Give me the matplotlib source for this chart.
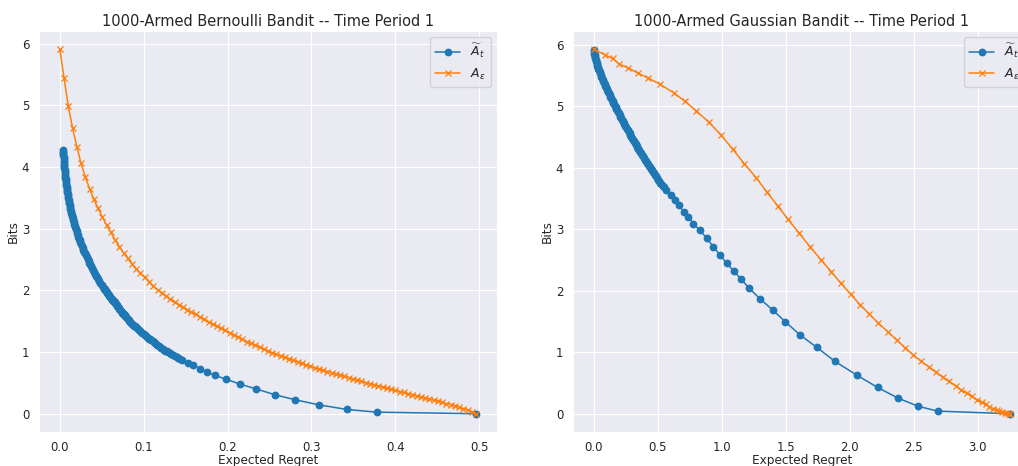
import matplotlib
matplotlib.use("Agg")
import matplotlib.pyplot as plt
import seaborn as sns

sns.set_style("darkgrid")
plt.rcParams['font.family'] = ['DejaVu Sans']

# ---- 1000-armed Bernoulli bandit ----
# A~_t curve: dense part first, then the sparse tail
bern_at_regret = [
    0.00400, 0.00412, 0.00425, 0.00437, 0.00450, 0.00463, 0.00477, 0.00491, 0.00504,
    0.00520, 0.00541, 0.00563, 0.00585, 0.00609, 0.00634, 0.00659, 0.00686, 0.00714,
    0.00742, 0.00772, 0.00804, 0.00836, 0.00870, 0.00905, 0.00942, 0.00980,
    0.01015, 0.01054, 0.01095, 0.01137, 0.01180, 0.01226, 0.01273, 0.01322, 0.01374,
    0.01426, 0.01481, 0.01539, 0.01598, 0.01660, 0.01723, 0.01789, 0.01859,
    0.01931, 0.01998, 0.02067, 0.02138, 0.02212, 0.02289, 0.02368, 0.02450, 0.02535,
    0.02621, 0.02712, 0.02805, 0.02902, 0.03002, 0.03107,
    0.03213, 0.03317, 0.03422, 0.03530, 0.03641, 0.03759, 0.03877,
    0.03997, 0.04108, 0.04224, 0.04341, 0.04465, 0.04591, 0.04717, 0.04851, 0.04984,
    0.05126, 0.05272,
    0.05340, 0.05422, 0.05502, 0.05580, 0.05659, 0.05739, 0.05826, 0.05908, 0.05991,
    0.06075, 0.06167, 0.06254, 0.06342, 0.06431, 0.06529,
    0.06614, 0.06694, 0.06775, 0.06850, 0.06932, 0.07016, 0.07101, 0.07187, 0.07274,
    0.07361, 0.07443, 0.07533, 0.07624, 0.07716, 0.07808, 0.07903, 0.07998, 0.08094,
    0.08192, 0.08299, 0.08416, 0.08527, 0.08638, 0.08751, 0.08866, 0.08991, 0.09108,
    0.09227, 0.09348, 0.09470, 0.09604, 0.09730, 0.09857, 0.09986, 0.10117, 0.10260,
    0.10394, 0.10530, 0.10657, 0.10796, 0.10927, 0.11070, 0.11214, 0.11350, 0.11498,
    0.11637, 0.11789, 0.11943, 0.12087, 0.12246, 0.12405, 0.12568,
    0.12731, 0.12923, 0.13118, 0.13316, 0.13517, 0.13722, 0.13929, 0.14140, 0.14353,
    0.14572,
    0.153, 0.159, 0.167, 0.175, 0.185, 0.198, 0.2145, 0.2345, 0.2568, 0.2803,
    0.3087, 0.342, 0.378, 0.4964]
bern_at_bits = [
    4.28, 4.25, 4.22, 4.19, 4.16, 4.13, 4.10, 4.07, 4.04,
    4.01, 3.98, 3.95, 3.92, 3.89, 3.86, 3.83, 3.80, 3.77,
    3.74, 3.71, 3.68, 3.65, 3.62, 3.59, 3.56, 3.53,
    3.50, 3.47, 3.44, 3.41, 3.38, 3.35, 3.32, 3.29, 3.26,
    3.23, 3.20, 3.17, 3.14, 3.11, 3.08, 3.05, 3.02,
    2.99, 2.96, 2.93, 2.90, 2.87, 2.84, 2.81, 2.78, 2.75,
    2.72, 2.69, 2.66, 2.63, 2.60, 2.57,
    2.54, 2.51, 2.48, 2.45, 2.42, 2.39, 2.36,
    2.33, 2.30, 2.27, 2.24, 2.21, 2.18, 2.15, 2.12, 2.09,
    2.06, 2.03,
    2.015, 2.000, 1.985, 1.970, 1.955, 1.940, 1.925, 1.910, 1.895,
    1.880, 1.865, 1.850, 1.835, 1.820, 1.805,
    1.790, 1.775, 1.760, 1.745, 1.730, 1.715, 1.700, 1.685, 1.670,
    1.655, 1.640, 1.625, 1.610, 1.595, 1.580, 1.565, 1.550, 1.535,
    1.520, 1.505, 1.490, 1.475, 1.460, 1.445, 1.430, 1.415, 1.400,
    1.385, 1.370, 1.355, 1.340, 1.325, 1.310, 1.295, 1.280, 1.265,
    1.250, 1.235, 1.220, 1.205, 1.190, 1.175, 1.160, 1.145, 1.130,
    1.115, 1.100, 1.085, 1.070, 1.055, 1.040, 1.025,
    1.010, 0.995, 0.980, 0.965, 0.950, 0.935, 0.920, 0.905, 0.890,
    0.875,
    0.825, 0.785, 0.733, 0.68, 0.623, 0.56, 0.482, 0.401, 0.307, 0.228,
    0.145, 0.07, 0.026, 0.0]

bern_eps_regret = [
    0.0000, 0.0051, 0.0101, 0.0152, 0.0203, 0.0253, 0.0304, 0.0355, 0.0405, 0.0456,
    0.0507, 0.0557, 0.0608, 0.0658, 0.0709, 0.0760, 0.0810, 0.0861, 0.0912, 0.0962,
    0.1013, 0.1064, 0.1114, 0.1165, 0.1216, 0.1266, 0.1317, 0.1368, 0.1418, 0.1469,
    0.1520, 0.1570, 0.1621, 0.1671, 0.1722, 0.1773, 0.1823, 0.1874, 0.1925, 0.1975,
    0.2026, 0.2077, 0.2127, 0.2178, 0.2229, 0.2279, 0.2330, 0.2381, 0.2431, 0.2482,
    0.2533, 0.2583, 0.2634, 0.2685, 0.2735, 0.2786, 0.2837, 0.2887, 0.2938, 0.2988,
    0.3039, 0.3090, 0.3140, 0.3191, 0.3242, 0.3292, 0.3343, 0.3394, 0.3444, 0.3495,
    0.3546, 0.3596, 0.3647, 0.3698, 0.3748, 0.3799, 0.3849, 0.3900, 0.3951, 0.4001,
    0.4052, 0.4103, 0.4153, 0.4204, 0.4255, 0.4305, 0.4356, 0.4407, 0.4457, 0.4508,
    0.4559, 0.4609, 0.4660, 0.4710, 0.4761, 0.4812, 0.4862, 0.4913, 0.4964]
bern_eps_bits = [
    5.91, 5.44, 4.99, 4.63, 4.33, 4.06, 3.84, 3.65, 3.48, 3.33,
    3.19, 3.06, 2.94, 2.82, 2.71, 2.61, 2.52, 2.43, 2.35, 2.28,
    2.21, 2.14, 2.07, 2.01, 1.96, 1.91, 1.86, 1.81, 1.77, 1.73,
    1.69, 1.65, 1.61, 1.57, 1.53, 1.49, 1.455, 1.42, 1.385, 1.35,
    1.315, 1.28, 1.245, 1.205, 1.17, 1.14, 1.11, 1.08, 1.05, 1.02,
    0.99, 0.965, 0.94, 0.915, 0.89, 0.865, 0.84, 0.815, 0.79, 0.77,
    0.745, 0.725, 0.705, 0.685, 0.665, 0.645, 0.625, 0.605, 0.585, 0.565,
    0.545, 0.525, 0.505, 0.485, 0.47, 0.45, 0.43, 0.415, 0.395, 0.38,
    0.36, 0.345, 0.325, 0.31, 0.29, 0.275, 0.255, 0.24, 0.22, 0.205,
    0.185, 0.165, 0.15, 0.13, 0.11, 0.085, 0.06, 0.03, 0.0]

# ---- 1000-armed Gaussian bandit ----
gauss_at_regret = [
    0.000, 0.002, 0.004, 0.006, 0.008, 0.011, 0.014, 0.0175, 0.021, 0.0245,
    0.028, 0.032, 0.036, 0.0405, 0.045, 0.0495, 0.054, 0.059, 0.064, 0.069,
    0.074, 0.079, 0.084, 0.0895, 0.095, 0.1005, 0.106, 0.1115, 0.117, 0.1225,
    0.128, 0.134, 0.140, 0.146, 0.152, 0.158, 0.164, 0.170, 0.176, 0.182,
    0.188, 0.1945, 0.201, 0.2075, 0.214, 0.220, 0.226, 0.2325, 0.239, 0.2455,
    0.252, 0.2585, 0.265, 0.272, 0.279, 0.2855, 0.292, 0.299, 0.306, 0.313,
    0.320, 0.327, 0.334, 0.341, 0.348, 0.3555, 0.363, 0.370, 0.377, 0.3845,
    0.392, 0.3995, 0.407, 0.4145, 0.422, 0.430, 0.438, 0.446, 0.454, 0.462,
    0.470, 0.478, 0.486, 0.4945, 0.503, 0.5115, 0.520, 0.5285, 0.537, 0.5455,
    0.566, 0.601, 0.632, 0.665, 0.702, 0.738, 0.778, 0.826, 0.882, 0.932,
    0.985, 1.037, 1.096, 1.150, 1.214, 1.298, 1.396, 1.497, 1.612, 1.743,
    1.883, 2.056, 2.217, 2.376, 2.536, 2.687, 3.253]
gauss_at_bits = [
    5.910, 5.885, 5.860, 5.835, 5.810, 5.785, 5.760, 5.735, 5.710, 5.685,
    5.660, 5.635, 5.610, 5.585, 5.560, 5.535, 5.510, 5.485, 5.460, 5.435,
    5.410, 5.385, 5.360, 5.335, 5.310, 5.285, 5.260, 5.235, 5.210, 5.185,
    5.160, 5.135, 5.110, 5.085, 5.060, 5.035, 5.010, 4.985, 4.960, 4.935,
    4.910, 4.885, 4.860, 4.835, 4.810, 4.785, 4.760, 4.735, 4.710, 4.685,
    4.660, 4.635, 4.610, 4.585, 4.560, 4.535, 4.510, 4.485, 4.460, 4.435,
    4.410, 4.385, 4.360, 4.335, 4.310, 4.285, 4.260, 4.235, 4.210, 4.185,
    4.160, 4.135, 4.110, 4.085, 4.060, 4.035, 4.010, 3.985, 3.960, 3.935,
    3.910, 3.885, 3.860, 3.835, 3.810, 3.785, 3.760, 3.735, 3.710, 3.685,
    3.64, 3.556, 3.475, 3.39, 3.285, 3.205, 3.09, 2.99, 2.855, 2.72,
    2.585, 2.45, 2.315, 2.19, 2.042, 1.87, 1.69, 1.495, 1.28, 1.078,
    0.853, 0.626, 0.428, 0.255, 0.12, 0.043, 0.0]

gauss_eps_regret = [
    0.0, 0.085, 0.146, 0.196, 0.268, 0.342, 0.425, 0.517, 0.628, 0.711,
    0.801, 0.897, 0.991, 1.086, 1.177, 1.268, 1.350, 1.439, 1.518, 1.605,
    1.688, 1.776, 1.855, 1.929, 2.006, 2.081, 2.152, 2.222, 2.296, 2.366,
    2.431, 2.494, 2.553, 2.615, 2.671, 2.724, 2.776, 2.826, 2.869, 2.912,
    2.952, 2.992, 3.029, 3.060, 3.089, 3.120, 3.146, 3.168, 3.190, 3.212,
    3.228, 3.242, 3.253]
gauss_eps_bits = [
    5.93, 5.84, 5.78, 5.69, 5.625, 5.545, 5.46, 5.36, 5.215, 5.085,
    4.925, 4.745, 4.54, 4.30, 4.065, 3.84, 3.61, 3.375, 3.16, 2.935,
    2.72, 2.50, 2.31, 2.125, 1.945, 1.77, 1.623, 1.475, 1.335, 1.20,
    1.075, 0.96, 0.86, 0.765, 0.678, 0.598, 0.525, 0.455, 0.39, 0.337,
    0.285, 0.23, 0.19, 0.152, 0.118, 0.085, 0.06, 0.042, 0.027, 0.015,
    0.008, 0.003, 0.0]

titles = ["1000-Armed Bernoulli Bandit -- Time Period 1",
          "1000-Armed Gaussian Bandit -- Time Period 1"]
labels = [r"$\widetilde{A}_t$", r"$A_\epsilon$"]

fig = plt.figure(figsize=(10.18, 4.66), dpi=100)
# right panel runs past the edge of the canvas, like the cropped original
ax1 = fig.add_axes([0.0383, 0.073, 0.4499, 0.8605])
ax2 = fig.add_axes([0.5629, 0.073, 0.4499, 0.8605])

panels = [
    (ax1, bern_at_regret, bern_at_bits, bern_eps_regret, bern_eps_bits),
    (ax2, gauss_at_regret, gauss_at_bits, gauss_eps_regret, gauss_eps_bits),
]

for i, (ax, xa, ya, xe, ye) in enumerate(panels):
    ax.plot(xa, ya, marker="o", markersize=4.6, linewidth=1.1,
            color="#1f77b4", label=labels[0])
    ax.plot(xe, ye, marker="x", markersize=4.0, markeredgewidth=0.9,
            linewidth=1.1, color="#ff7f0e", label=labels[1])
    ax.set_title(titles[i], fontsize=10.5, pad=3.8)
    ax.set_xlabel("Expected Regret", fontsize=8.7, labelpad=0)
    ax.set_ylabel("Bits", fontsize=8.7, labelpad=1.2)
    ax.tick_params(axis="x", labelsize=8.5, pad=3)
    ax.tick_params(axis="y", labelsize=8.5)
    ax.legend(loc="upper right", fontsize=9.0)

ax1.set_xticks([0.0, 0.1, 0.2, 0.3, 0.4, 0.5])
ax2.set_xticks([0.0, 0.5, 1.0, 1.5, 2.0, 2.5, 3.0])

fig.savefig("out.png", dpi=100)
